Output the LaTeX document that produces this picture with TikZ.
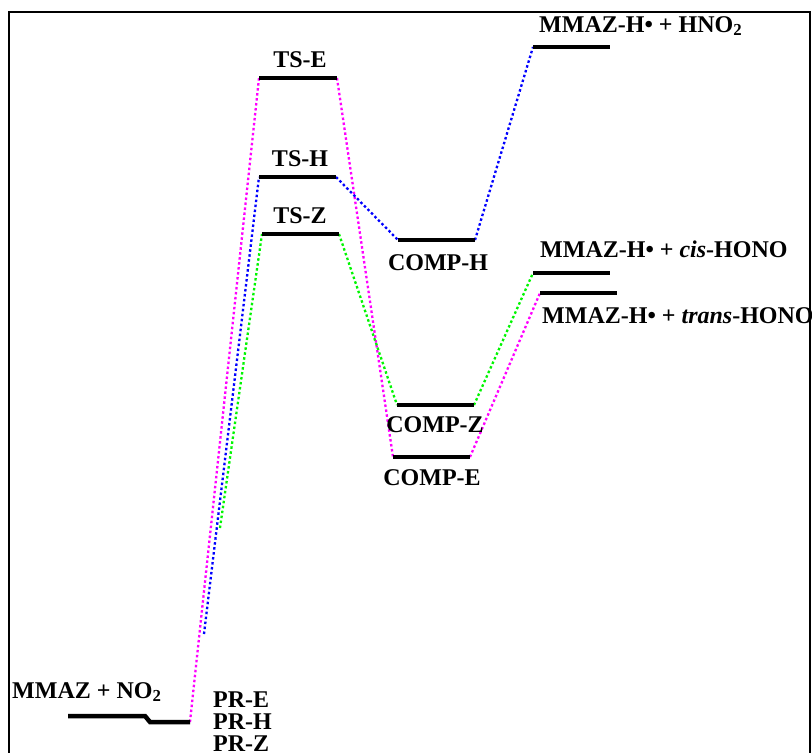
\documentclass[tikz,border=0pt]{standalone}
\usepackage{fontspec}
\setmainfont{Liberation Serif}
\definecolor{cmag}{RGB}{255,0,255}
\definecolor{cblue}{RGB}{0,0,255}
\definecolor{cgreen}{RGB}{0,245,0}
\begin{document}
\begin{tikzpicture}[x=1pt,y=-1pt,
  level/.style={line width=4.5pt},
  conn/.style={line width=2.3pt,dash pattern=on 2.5pt off 2.5pt},
  lab/.style={inner sep=0pt,font=\fontsize{24}{28}\selectfont\bfseries},
  frameline/.style={line width=2pt}]
\useasboundingbox (0,0) rectangle (812,753);
% frame
\coordinate (f1) at (9,760);
\coordinate (f2) at (9,12);
\coordinate (f3) at (810,12);
\coordinate (f4) at (810,760);
\draw[frameline] (f1) -- (f2) -- (f3) -- (f4);
% level end points
\coordinate (r0l) at (68,716);
\coordinate (r0r) at (145,716);
\coordinate (prl) at (150,722);
\coordinate (prr) at (190,722);
\coordinate (tsEl) at (259,78);
\coordinate (tsEr) at (337,78);
\coordinate (tsHl) at (259,177);
\coordinate (tsHr) at (336,177);
\coordinate (tsZl) at (262,234);
\coordinate (tsZr) at (339,234);
\coordinate (cHl) at (398,240);
\coordinate (cHr) at (475,240);
\coordinate (cZl) at (397,405);
\coordinate (cZr) at (474,405);
\coordinate (cEl) at (393,457);
\coordinate (cEr) at (470,457);
\coordinate (pHl) at (533,47);
\coordinate (pHr) at (610,47);
\coordinate (pCl) at (533,273);
\coordinate (pCr) at (610,273);
\coordinate (pTl) at (540,293);
\coordinate (pTr) at (617,293);
\coordinate (bstart) at (204,634);
\coordinate (gstart) at (220,528);
% connectors
\draw[conn,cmag] (prr) -- (tsEl);
\draw[conn,cmag] (tsEr) -- (cEl);
\draw[conn,cmag] (cEr) -- (pTl);
\draw[conn,cblue] (bstart) -- (tsHl);
\draw[conn,cblue] (tsHr) -- (cHl);
\draw[conn,cblue] (cHr) -- (pHl);
\draw[conn,cgreen] (gstart) -- (tsZl);
\draw[conn,cgreen] (tsZr) -- (cZl);
\draw[conn,cgreen] (cZr) -- (pCl);
% levels
\draw[level] (r0l) -- (r0r) -- (prl) -- (prr);
\draw[level] (tsEl) -- (tsEr);
\draw[level] (tsHl) -- (tsHr);
\draw[level] (tsZl) -- (tsZr);
\draw[level] (cHl) -- (cHr);
\draw[level] (cZl) -- (cZr);
\draw[level] (cEl) -- (cEr);
\draw[level] (pHl) -- (pHr);
\draw[level] (pCl) -- (pCr);
\draw[level] (pTl) -- (pTr);
% labels
\node[lab,anchor=base west] (lr0) at (12,698) {MMAZ + NO\textsubscript{2}};
\node[lab,anchor=base west] (lprE) at (213,707) {PR-E};
\node[lab,anchor=base west] (lprH) at (213,729) {PR-H};
\node[lab,anchor=base west] (lprZ) at (213,751) {PR-Z};
\node[lab,anchor=base] (ltsE) at (300,67) {TS-E};
\node[lab,anchor=base] (ltsH) at (300,166) {TS-H};
\node[lab,anchor=base] (ltsZ) at (300,223) {TS-Z};
\node[lab,anchor=base] (lcH) at (438,270) {COMP-H};
\node[lab,anchor=base] (lcZ) at (435,432) {COMP-Z};
\node[lab,anchor=base] (lcE) at (432,485) {COMP-E};
\node[lab,anchor=base west] (lpH) at (539,32) {MMAZ-H• + HNO\textsubscript{2}};
\node[lab,anchor=base west] (lpC) at (540,257) {MMAZ-H• + \textit{cis}-HONO};
\node[lab,anchor=base west] (lpT) at (542,323) {MMAZ-H• + \textit{trans}-HONO};
\end{tikzpicture}
\end{document}
